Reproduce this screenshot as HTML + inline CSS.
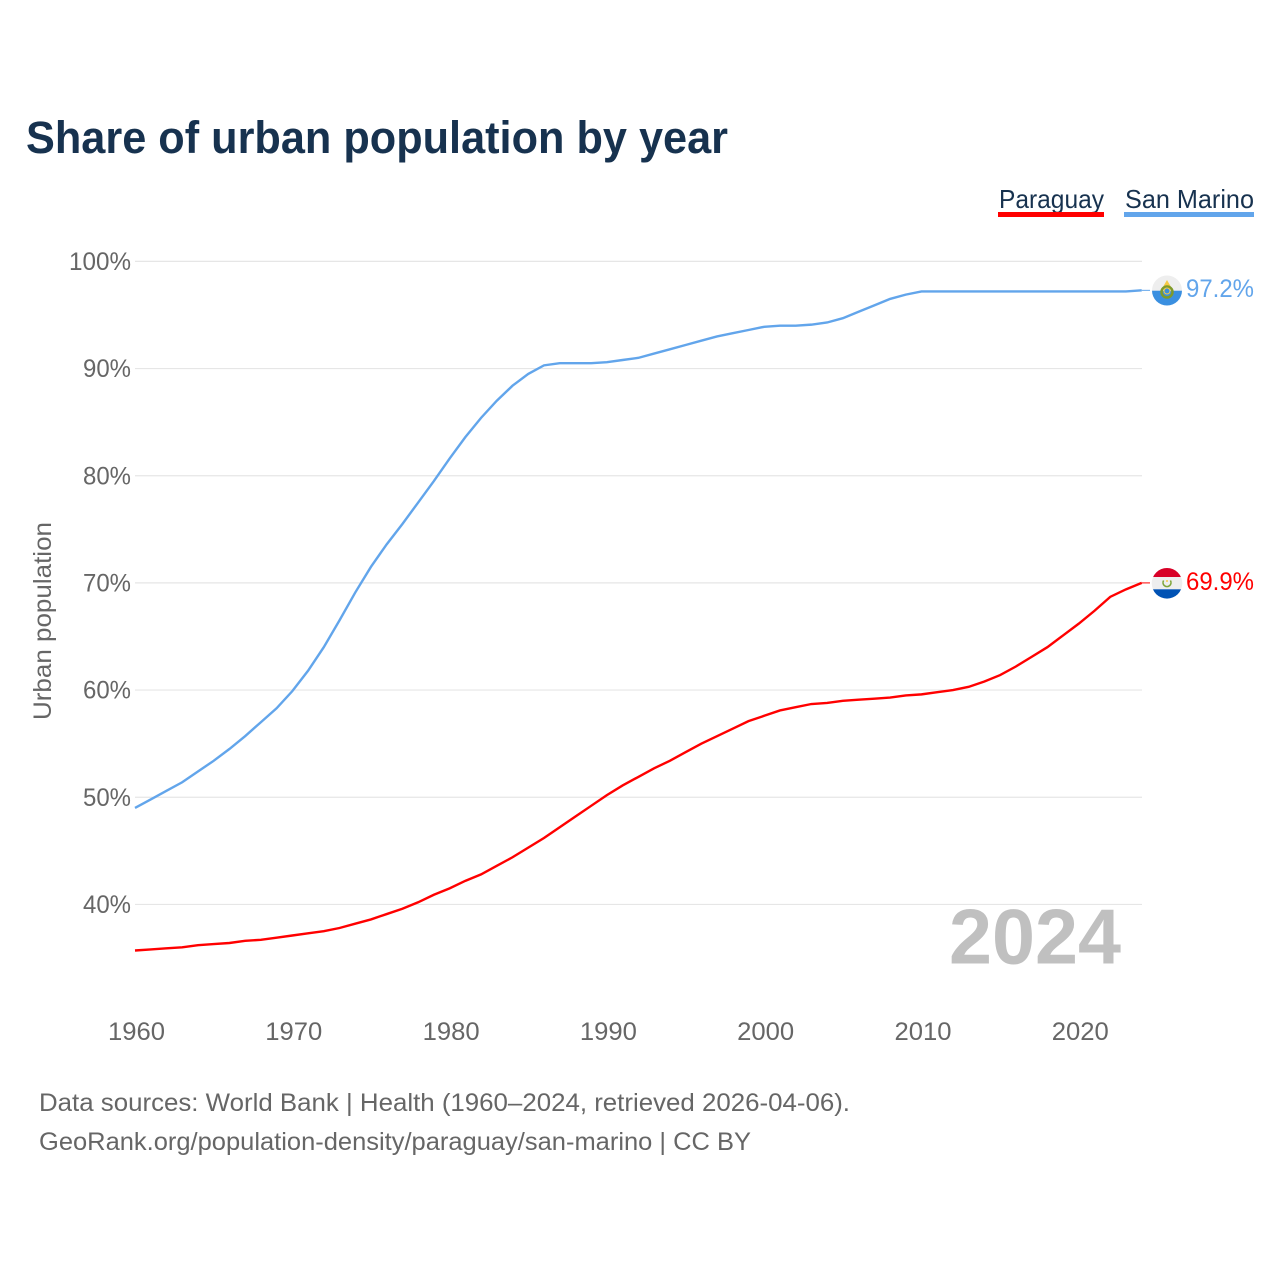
<!DOCTYPE html>
<html lang="en">
<head>
<meta charset="utf-8">
<title>Share of urban population by year</title>
<style>
html,body{margin:0;padding:0;background:#fff;width:1280px;height:1280px;overflow:hidden}
svg{display:block}
text{font-family:"Liberation Sans",sans-serif}
</style>
</head>
<body>
<svg id="chart" width="1280" height="1280" viewBox="0 0 1280 1280" xmlns="http://www.w3.org/2000/svg">
  <defs>
    <clipPath id="flag-clip-sm"><circle cx="1167" cy="290.5" r="15"/></clipPath>
    <clipPath id="flag-clip-py"><circle cx="1167" cy="583.3" r="15.3"/></clipPath>
  </defs>
  <text x="26" y="153" font-size="45" font-weight="700" fill="#17324f" textLength="702" lengthAdjust="spacingAndGlyphs">Share of urban population by year</text>

  <g>
    <g>
      <text x="999" y="208" font-size="26" fill="#17324f" textLength="105" lengthAdjust="spacingAndGlyphs">Paraguay</text>
      <rect x="998" y="212" width="106" height="5" fill="#ff0000"/>
    </g>
    <g>
      <text x="1125" y="208" font-size="26" fill="#17324f" textLength="129" lengthAdjust="spacingAndGlyphs">San Marino</text>
      <rect x="1124" y="212" width="130" height="5" fill="#62a5eb"/>
    </g>
  </g>

  <g id="grid"></g>
  <g id="y-ticks"></g>
  <g id="x-ticks"></g>

  <text transform="translate(51,621) rotate(-90)" text-anchor="middle" font-size="25" fill="#666666" textLength="198" lengthAdjust="spacingAndGlyphs">Urban population</text>

  <text x="949" y="963.5" font-size="78" font-weight="700" fill="#c0c0c0" textLength="172" lengthAdjust="spacingAndGlyphs">2024</text>

  <g id="series"></g>

  <g clip-path="url(#flag-clip-sm)">
    <rect x="1151" y="275" width="32" height="15.7" fill="#eeeeee"/>
    <rect x="1151" y="290.7" width="32" height="16" fill="#3a8fe0"/>
    <path d="M1167 280 L1170.5 286 L1170.5 288 L1163.5 288 L1163.5 286 Z" fill="#f6c945"/>
    <circle cx="1167" cy="292" r="5.5" fill="none" stroke="#7f9a2a" stroke-width="2.5"/>
    <circle cx="1167" cy="291" r="3" fill="#3a8fe0" stroke="#f6c945" stroke-width="1"/>
  </g>
  <g clip-path="url(#flag-clip-py)">
    <rect x="1151" y="567" width="32" height="10" fill="#d80027"/>
    <rect x="1151" y="577" width="32" height="12.3" fill="#eeeeee"/>
    <rect x="1151" y="589.3" width="32" height="11" fill="#0052b4"/>
    <path d="M1163.6 580.5 A4 4 0 1 0 1170.4 580.5" fill="none" stroke="#7fa53a" stroke-width="1.6"/>
    <circle cx="1167" cy="581" r="1" fill="#f6c945"/>
  </g>

  <text x="1186" y="297" font-size="25" fill="#62a5eb" textLength="68" lengthAdjust="spacingAndGlyphs">97.2%</text>
  <text x="1186" y="590" font-size="25" fill="#ff0000" textLength="68" lengthAdjust="spacingAndGlyphs">69.9%</text>

  <text x="39" y="1111" font-size="25" fill="#666666" textLength="811" lengthAdjust="spacingAndGlyphs">Data sources: World Bank | Health (1960–2024, retrieved 2026-04-06).</text>
  <a><text x="39" y="1150" font-size="25" fill="#666666" textLength="712" lengthAdjust="spacingAndGlyphs">GeoRank.org/population-density/paraguay/san-marino | CC BY</text></a>
</svg>
<script>
const startYear = 1960;
const yTickValues = [40, 50, 60, 70, 80, 90, 100];
const xTickValues = [1960, 1970, 1980, 1990, 2000, 2010, 2020];
const paraguayValues = [35.7,35.8,35.9,36.0,36.2,36.3,36.4,36.6,36.7,36.9,37.1,37.3,37.5,37.8,38.2,38.6,39.1,39.6,40.2,40.9,41.5,42.2,42.8,43.6,44.4,45.3,46.2,47.2,48.2,49.2,50.2,51.1,51.9,52.7,53.4,54.2,55.0,55.7,56.4,57.1,57.6,58.1,58.4,58.7,58.8,59.0,59.1,59.2,59.3,59.5,59.6,59.8,60.0,60.3,60.8,61.4,62.2,63.1,64.0,65.1,66.2,67.4,68.7,69.4,70.0];
const sanMarinoValues = [49.0,49.8,50.6,51.4,52.4,53.4,54.5,55.7,57.0,58.3,59.9,61.8,64.0,66.5,69.1,71.5,73.6,75.5,77.5,79.5,81.6,83.6,85.4,87.0,88.4,89.5,90.3,90.5,90.5,90.5,90.6,90.8,91.0,91.4,91.8,92.2,92.6,93.0,93.3,93.6,93.9,94.0,94.0,94.1,94.3,94.7,95.3,95.9,96.5,96.9,97.2,97.2,97.2,97.2,97.2,97.2,97.2,97.2,97.2,97.2,97.2,97.2,97.2,97.2,97.3];

const SVG_NS = 'http://www.w3.org/2000/svg';
function xScale(year) { return 135 + (year - 1960) * 15.73; }
function yScale(pct) { return 261.4 + (100 - pct) * 10.717; }
function linePath(values) {
  const segments = values.map(function (v, i) {
    return (i ? 'L' : 'M') + xScale(startYear + i).toFixed(2) + ' ' + yScale(v).toFixed(2);
  });
  return segments.join(' ');
}
function leaderPath(values) {
  const lastIndex = values.length - 1;
  const lastY = yScale(values[lastIndex]).toFixed(2);
  return 'M' + xScale(startYear + lastIndex).toFixed(2) + ' ' + lastY + ' L1150 ' + lastY;
}

const grid = document.getElementById('grid');
const yTicks = document.getElementById('y-ticks');
const xTicks = document.getElementById('x-ticks');
const seriesGroup = document.getElementById('series');

yTickValues.forEach(function (v) {
  const line = document.createElementNS(SVG_NS, 'line');
  
  
  line.setAttribute('x1', 135);
  line.setAttribute('x2', 1142);
  line.setAttribute('y1', yScale(v));
  line.setAttribute('y2', yScale(v));
  line.setAttribute('stroke', '#e6e6e6');
  line.setAttribute('stroke-width', 1.2);
  grid.appendChild(line);

  const label = document.createElementNS(SVG_NS, 'text');
  
  
  label.setAttribute('x', 131);
  label.setAttribute('y', yScale(v) + 8.6);
  label.setAttribute('text-anchor', 'end');
  label.setAttribute('font-size', 25);
  label.setAttribute('fill', '#666666');
  label.setAttribute('textLength', v === 100 ? 62 : 48);
  label.setAttribute('lengthAdjust', 'spacingAndGlyphs');
  label.textContent = v + '%';
  yTicks.appendChild(label);
});

xTickValues.forEach(function (year) {
  const label = document.createElementNS(SVG_NS, 'text');
  
  
  label.setAttribute('x', xScale(year) + 1.5);
  label.setAttribute('y', 1040);
  label.setAttribute('text-anchor', 'middle');
  label.setAttribute('font-size', 25);
  label.setAttribute('fill', '#666666');
  label.setAttribute('textLength', 57);
  label.setAttribute('lengthAdjust', 'spacingAndGlyphs');
  label.textContent = year;
  xTicks.appendChild(label);
});

const sanMarinoLine = document.createElementNS(SVG_NS, 'path');


sanMarinoLine.setAttribute('d', linePath(sanMarinoValues));
sanMarinoLine.setAttribute('fill', 'none');
sanMarinoLine.setAttribute('stroke', '#62a5eb');
sanMarinoLine.setAttribute('stroke-width', 2.4);
seriesGroup.appendChild(sanMarinoLine);

const sanMarinoLeader = document.createElementNS(SVG_NS, 'path');


sanMarinoLeader.setAttribute('d', leaderPath(sanMarinoValues));
sanMarinoLeader.setAttribute('fill', 'none');
sanMarinoLeader.setAttribute('stroke', '#62a5eb');
sanMarinoLeader.setAttribute('stroke-width', 1);
seriesGroup.appendChild(sanMarinoLeader);

const paraguayLine = document.createElementNS(SVG_NS, 'path');


paraguayLine.setAttribute('d', linePath(paraguayValues));
paraguayLine.setAttribute('fill', 'none');
paraguayLine.setAttribute('stroke', '#ff0000');
paraguayLine.setAttribute('stroke-width', 2.4);
seriesGroup.appendChild(paraguayLine);

const paraguayLeader = document.createElementNS(SVG_NS, 'path');


paraguayLeader.setAttribute('d', leaderPath(paraguayValues));
paraguayLeader.setAttribute('fill', 'none');
paraguayLeader.setAttribute('stroke', '#ff0000');
paraguayLeader.setAttribute('stroke-width', 1);
seriesGroup.appendChild(paraguayLeader);
</script>
</body>
</html>
